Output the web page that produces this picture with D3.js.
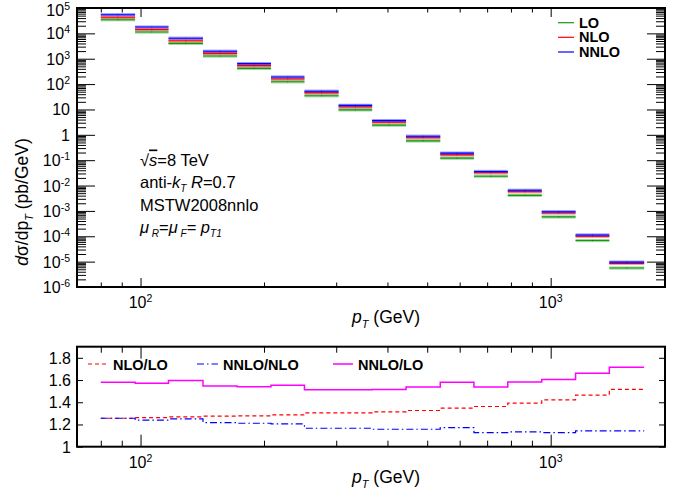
<!DOCTYPE html>
<html><head><meta charset="utf-8">
<script src="https://cdn.jsdelivr.net/npm/d3@7"></script>
<style>
body{margin:0;background:#fff}
text{font-family:"Liberation Sans",Arial,Helvetica,sans-serif;fill:#000}
</style>
</head><body><svg id="c" width="678" height="495"></svg>
<script>
// ---- data ----
const binEdges = [80, 97, 117, 142, 172, 208, 251, 304, 367, 444, 538, 650, 786, 951, 1150, 1390, 1690];
const LO   = [34500, 11300, 4040, 1274, 417, 123, 34.6, 9.6, 2.4, 0.575, 0.12, 0.0234, 0.0041, 5.8e-4, 6.8e-5, 5.6e-6];
const NLO  = [43300, 14260, 5130, 1624, 533, 158.3, 45.2, 12.5, 3.15, 0.763, 0.162, 0.0319, 0.00571, 8.25e-4, 9.96e-5, 8.49e-6];
const NNLO = [54500, 17740, 6440, 1971, 642, 190.9, 52.4, 14.5, 3.64, 0.884, 0.190, 0.0360, 0.00649, 9.30e-4, 1.13e-4, 9.60e-6];
const ratioNLO_LO   = [1.256, 1.262, 1.269, 1.275, 1.278, 1.287, 1.305, 1.305, 1.314, 1.326, 1.347, 1.362, 1.392, 1.422, 1.465, 1.516];
const ratioNNLO_NLO = [1.256, 1.239, 1.250, 1.217, 1.211, 1.205, 1.166, 1.166, 1.157, 1.157, 1.172, 1.127, 1.133, 1.127, 1.142, 1.142];
const ratioNNLO_LO  = [1.579, 1.570, 1.595, 1.547, 1.540, 1.552, 1.513, 1.513, 1.515, 1.537, 1.579, 1.537, 1.583, 1.604, 1.661, 1.715];
const yTickExps = [5, 4, 3, 2, 1, 0, -1, -2, -3, -4, -5, -6];
const xTickExps = [2, 3];
const ratioTicks = [1, 1.2, 1.4, 1.6, 1.8];
const ratioTickLabels = ["1", "1.2", "1.4", "1.6", "1.8"];
const topLegend = ["LO", "NLO", "NNLO"];
const botLegend = ["NLO/LO", "NNLO/NLO", "NNLO/LO"];

// ---- layout ----
const svg = d3.select("#c");
const L = 77, R = 665;
const topT = 8, topB = 287;
const botT = 346.7, botB = 446.7;
const FONT = 16;

const x = d3.scaleLog().domain([70, 1900]).range([L, R]);
const y = d3.scaleLog().domain([1e-6, 1e5]).range([topB, topT]);
const yr = d3.scaleLinear().domain([1, 1.9]).range([botB, botT]);

const colors = {LO: "#119911", NLO: "#ff0000", NNLO: "#0000ff"};

// minor tick values
const xMinor = [], yMinor = [], xMajor = xTickExps.map(e => Math.pow(10, e));
for (let d = 1; d <= 3; d++) for (let m = 2; m <= 9; m++) {
  const v = m * Math.pow(10, d);
  if (v >= 70 && v <= 1900) xMinor.push(v);
}
for (let d = -6; d < 5; d++) for (let m = 2; m <= 9; m++) yMinor.push(m * Math.pow(10, d));
const yMajor = yTickExps.map(e => Math.pow(10, e));

function axisG(axis, tx, ty) {
  const g = svg.append("g").attr("transform", `translate(${tx},${ty})`).call(axis);
  g.select(".domain").remove();
  g.selectAll("line").attr("stroke", "#000").attr("stroke-width", 1);
  g.selectAll("text").remove();
  return g;
}

// ---- top panel ticks ----
axisG(d3.axisLeft(y).tickValues(yMajor).tickSize(-18), L, 0);
axisG(d3.axisLeft(y).tickValues(yMinor).tickSize(-9), L, 0);
axisG(d3.axisRight(y).tickValues(yMajor).tickSize(-18), R, 0);
axisG(d3.axisRight(y).tickValues(yMinor).tickSize(-9), R, 0);
axisG(d3.axisBottom(x).tickValues(xMajor).tickSize(-9), 0, topB);
axisG(d3.axisBottom(x).tickValues(xMinor).tickSize(-4.5), 0, topB);
axisG(d3.axisTop(x).tickValues(xMajor).tickSize(-9), 0, topT);
axisG(d3.axisTop(x).tickValues(xMinor).tickSize(-4.5), 0, topT);

// ---- bottom panel ticks ----
axisG(d3.axisLeft(yr).tickValues(ratioTicks).tickSize(-6), L, 0);
axisG(d3.axisRight(yr).tickValues(ratioTicks).tickSize(-6), R, 0);
axisG(d3.axisBottom(x).tickValues(xMajor).tickSize(-12), 0, botB);
axisG(d3.axisBottom(x).tickValues(xMinor).tickSize(-6), 0, botB);
axisG(d3.axisTop(x).tickValues(xMajor).tickSize(-12), 0, botT);
axisG(d3.axisTop(x).tickValues(xMinor).tickSize(-6), 0, botT);

// ---- top panel data ----
const series = [["LO", LO], ["NLO", NLO], ["NNLO", NNLO]];
series.forEach(([name, vals]) => {
  const g = svg.append("g");
  vals.forEach((v, i) => {
    const x0 = x(binEdges[i]), x1 = x(binEdges[i + 1]), yy = y(v);
    g.append("rect").attr("x", x0).attr("width", x1 - x0).attr("y", yy - 1.6).attr("height", 3.2)
      .attr("fill", colors[name]).attr("opacity", 0.4);
    g.append("line").attr("x1", x0).attr("x2", x1).attr("y1", yy).attr("y2", yy)
      .attr("stroke", colors[name]).attr("stroke-width", 1.1);
    const xc = x(Math.sqrt(binEdges[i] * binEdges[i + 1]));
    g.append("line").attr("x1", xc).attr("x2", xc).attr("y1", yy - 0.8).attr("y2", yy + 0.8)
      .attr("stroke", "#000").attr("stroke-opacity", 0.3).attr("stroke-width", 0.8);
  });
});

// ---- bottom panel data ----
function stepPts(vals) {
  const pts = [];
  vals.forEach((v, i) => { pts.push([binEdges[i], v]); pts.push([binEdges[i + 1], v]); });
  return pts;
}
const rline = d3.line().x(d => x(d[0])).y(d => yr(d[1]));
const ratioSeries = [
  [ratioNLO_LO, "#ff0000", "4,3", 1.2],
  [ratioNNLO_NLO, "#0000ff", "7,3,1.5,3", 1.2],
  [ratioNNLO_LO, "#ff00ff", null, 1.5]
];
ratioSeries.forEach(([vals, col, dash, w]) => {
  svg.append("path").attr("d", rline(stepPts(vals))).attr("fill", "none")
    .attr("stroke", col).attr("stroke-width", w).attr("stroke-dasharray", dash);
});

// ---- frames ----
svg.append("rect").attr("x", L).attr("y", topT).attr("width", R - L).attr("height", topB - topT)
  .attr("fill", "none").attr("stroke", "#000").attr("stroke-width", 2);
svg.append("rect").attr("x", L).attr("y", botT).attr("width", R - L).attr("height", botB - botT)
  .attr("fill", "none").attr("stroke", "#000").attr("stroke-width", 2);

// ---- tick labels ----
function powLabel(g, e, xx, yy, anchor) {
  const t = g.append("text").attr("x", xx).attr("y", yy).attr("text-anchor", anchor).attr("font-size", FONT);
  if (e === 0) t.text("1");
  else if (e === 1) t.text("10");
  else {
    t.append("tspan").text("10");
    t.append("tspan").attr("dy", -6).attr("font-size", 10.5).text(String(e));
  }
  return t;
}
const lab = svg.append("g");
yTickExps.forEach(e => powLabel(lab, e, 70, y(Math.pow(10, e)) + 6 + (e === 5 ? 1.5 : 0), "end"));
xTickExps.forEach(e => powLabel(lab, e, x(Math.pow(10, e)), 308, "middle"));
xTickExps.forEach(e => powLabel(lab, e, x(Math.pow(10, e)), 468, "middle"));
ratioTicks.forEach((v, i) => lab.append("text").attr("x", 71).attr("y", yr(v) + 6)
  .attr("text-anchor", "end").attr("font-size", FONT).text(ratioTickLabels[i]));

// ---- axis titles ----
function xTitle(yy) {
  const t = svg.append("text").attr("x", 352).attr("y", yy).attr("font-size", 17.5);
  t.append("tspan").attr("font-style", "italic").text("p");
  t.append("tspan").attr("font-style", "italic").attr("font-size", 11).attr("dy", 5).text("T");
  t.append("tspan").attr("dy", -5).text(" (GeV)");
}
xTitle(323);
xTitle(483);
const yt = svg.append("text").attr("transform", "translate(28,202) rotate(-90)")
  .attr("text-anchor", "middle").attr("font-size", 17.5);
yt.append("tspan").attr("font-style", "italic").text("d");
yt.append("tspan").text("σ/dp");
yt.append("tspan").attr("font-size", 11).attr("font-style", "italic").attr("dy", 5).text("T");
yt.append("tspan").attr("dy", -5).text(" (pb/GeV)");

// ---- info text ----
const info = svg.append("g").attr("font-size", 16.5);
const t1 = info.append("text").attr("x", 140).attr("y", 165.5).attr("font-size", 16.5);
t1.append("tspan").text("√");
t1.append("tspan").attr("font-style", "italic").attr("text-decoration", "overline").text("s");
t1.append("tspan").text("=8 TeV");
const t2 = info.append("text").attr("x", 140).attr("y", 188).attr("font-size", 16.5);
t2.append("tspan").text("anti-");
t2.append("tspan").attr("font-style", "italic").text("k");
t2.append("tspan").attr("font-style", "italic").attr("font-size", 10).attr("dy", 4).text("T");
t2.append("tspan").attr("dy", -4).text(" ");
t2.append("tspan").attr("font-style", "italic").text("R");
t2.append("tspan").text("=0.7");
info.append("text").attr("x", 140).attr("y", 211).attr("font-size", 16.5).text("MSTW2008nnlo");
const t4 = info.append("text").attr("x", 140).attr("y", 233).attr("font-size", 16.5);
t4.append("tspan").attr("font-style", "italic").text("μ");
t4.append("tspan").attr("font-style", "italic").attr("font-size", 10).attr("dy", 4).text(" R");
t4.append("tspan").attr("dy", -4).text("=");
t4.append("tspan").attr("font-style", "italic").text("μ");
t4.append("tspan").attr("font-style", "italic").attr("font-size", 10).attr("dy", 4).text(" F");
t4.append("tspan").attr("dy", -4).text("= ");
t4.append("tspan").attr("font-style", "italic").text("p");
t4.append("tspan").attr("font-style", "italic").attr("font-size", 10).attr("dy", 4).text("T1");

// ---- legends ----
const legYs = [22.7, 37.3, 52];
topLegend.forEach((name, i) => {
  svg.append("line").attr("x1", 558).attr("x2", 574).attr("y1", legYs[i]).attr("y2", legYs[i])
    .attr("stroke", colors[name]).attr("stroke-width", 1.2);
  svg.append("text").attr("x", 579).attr("y", legYs[i] + 5).attr("font-size", 14.5)
    .attr("font-weight", "bold").text(name);
});
const botLegX = [[88, 107, 113], [197, 218, 223], [333, 353, 358]];
botLegend.forEach((name, i) => {
  const [x0, x1, tx] = botLegX[i];
  const [, col, dash, w] = ratioSeries[i];
  svg.append("line").attr("x1", x0).attr("x2", x1).attr("y1", 364).attr("y2", 364)
    .attr("stroke", col).attr("stroke-width", w).attr("stroke-dasharray", dash);
  svg.append("text").attr("x", tx).attr("y", 369.5).attr("font-size", 14.5)
    .attr("font-weight", "bold").text(name);
});
</script>
</body></html>
